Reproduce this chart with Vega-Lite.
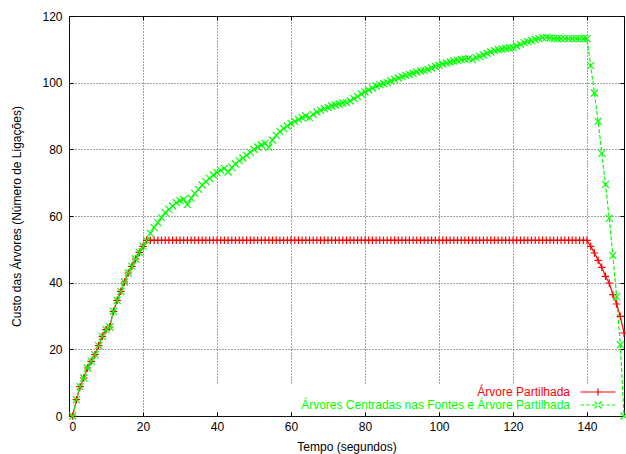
{
 "$schema": "https://vega.github.io/schema/vega-lite/v6.json",
 "width": 555, "height": 400,
 "autosize": "none",
 "padding": {"left": 69, "top": 16, "right": 2, "bottom": 38},
 "background": "white",
 "config": {
  "font": "Liberation Sans",
  "view": {"stroke": "black", "strokeWidth": 1},
  "axis": {"labelFontSize": 12, "labelColor": "black", "titleFontSize": 12, "titleFontWeight": "normal", "titleColor": "black", "domain": false, "tickColor": "black", "tickSize": -4, "gridColor": "#333333", "gridDash": [1, 2], "gridOpacity": 0.9}
 },
 "data": {"values": [
  {"t":1,"partilhada":0,"centradas":0},{"t":2,"partilhada":4.9,"centradas":4.9},{"t":3,"partilhada":8.8,"centradas":8.8},{"t":4,"partilhada":11.4,"centradas":11.4},{"t":5,"partilhada":14.4,"centradas":14.4},
  {"t":6,"partilhada":16.4,"centradas":16.4},{"t":7,"partilhada":18.4,"centradas":18.4},{"t":8,"partilhada":21.1,"centradas":21.1},{"t":9,"partilhada":23.9,"centradas":23.9},{"t":10,"partilhada":25.9,"centradas":25.9},
  {"t":11,"partilhada":26.7,"centradas":26.7},{"t":12,"partilhada":31.4,"centradas":31.4},{"t":13,"partilhada":34.7,"centradas":34.7},{"t":14,"partilhada":37.4,"centradas":37.4},{"t":15,"partilhada":40.2,"centradas":40.2},
  {"t":16,"partilhada":42.9,"centradas":42.9},{"t":17,"partilhada":44.9,"centradas":44.9},{"t":18,"partilhada":47.1,"centradas":47.1},{"t":19,"partilhada":49.1,"centradas":49.1},{"t":20,"partilhada":50.9,"centradas":50.9},
  {"t":21,"partilhada":52.7,"centradas":52.6},{"t":22,"partilhada":52.7,"centradas":54.8},{"t":23,"partilhada":52.7,"centradas":56.5},{"t":24,"partilhada":52.7,"centradas":58},{"t":25,"partilhada":52.7,"centradas":59.5},
  {"t":26,"partilhada":52.7,"centradas":61},{"t":27,"partilhada":52.7,"centradas":62},{"t":28,"partilhada":52.7,"centradas":63},{"t":29,"partilhada":52.7,"centradas":64},{"t":30,"partilhada":52.7,"centradas":64.6},
  {"t":31,"partilhada":52.7,"centradas":65},{"t":32,"partilhada":52.7,"centradas":63.5},{"t":33,"partilhada":52.7,"centradas":65.3},{"t":34,"partilhada":52.7,"centradas":66.8},{"t":35,"partilhada":52.7,"centradas":68},
  {"t":36,"partilhada":52.7,"centradas":69.3},{"t":37,"partilhada":52.7,"centradas":70.3},{"t":38,"partilhada":52.7,"centradas":71.3},{"t":39,"partilhada":52.7,"centradas":72.3},{"t":40,"partilhada":52.7,"centradas":73},
  {"t":41,"partilhada":52.7,"centradas":73.7},{"t":42,"partilhada":52.7,"centradas":74.3},{"t":43,"partilhada":52.7,"centradas":73.2},{"t":44,"partilhada":52.7,"centradas":74.6},{"t":45,"partilhada":52.7,"centradas":75.6},
  {"t":46,"partilhada":52.7,"centradas":76.6},{"t":47,"partilhada":52.7,"centradas":77.4},{"t":48,"partilhada":52.7,"centradas":78.2},{"t":49,"partilhada":52.7,"centradas":79.1},{"t":50,"partilhada":52.7,"centradas":80},
  {"t":51,"partilhada":52.7,"centradas":80.7},{"t":52,"partilhada":52.7,"centradas":81.3},{"t":53,"partilhada":52.7,"centradas":81.8},{"t":54,"partilhada":52.7,"centradas":80.6},{"t":55,"partilhada":52.7,"centradas":82.8},
  {"t":56,"partilhada":52.7,"centradas":84.2},{"t":57,"partilhada":52.7,"centradas":85.3},{"t":58,"partilhada":52.7,"centradas":86.2},{"t":59,"partilhada":52.7,"centradas":87},{"t":60,"partilhada":52.7,"centradas":87.8},
  {"t":61,"partilhada":52.7,"centradas":88.4},{"t":62,"partilhada":52.7,"centradas":89},{"t":63,"partilhada":52.7,"centradas":89.5},{"t":64,"partilhada":52.7,"centradas":90},{"t":65,"partilhada":52.7,"centradas":89.5},
  {"t":66,"partilhada":52.7,"centradas":90.5},{"t":67,"partilhada":52.7,"centradas":91.2},{"t":68,"partilhada":52.7,"centradas":91.7},{"t":69,"partilhada":52.7,"centradas":92.2},{"t":70,"partilhada":52.7,"centradas":92.6},
  {"t":71,"partilhada":52.7,"centradas":93},{"t":72,"partilhada":52.7,"centradas":93.3},{"t":73,"partilhada":52.7,"centradas":93.6},{"t":74,"partilhada":52.7,"centradas":93.9},{"t":75,"partilhada":52.7,"centradas":94},
  {"t":76,"partilhada":52.7,"centradas":94.5},{"t":77,"partilhada":52.7,"centradas":95.2},{"t":78,"partilhada":52.7,"centradas":95.8},{"t":79,"partilhada":52.7,"centradas":96.6},{"t":80,"partilhada":52.7,"centradas":97.2},
  {"t":81,"partilhada":52.7,"centradas":97.8},{"t":82,"partilhada":52.7,"centradas":98.4},{"t":83,"partilhada":52.7,"centradas":99},{"t":84,"partilhada":52.7,"centradas":99.4},{"t":85,"partilhada":52.7,"centradas":99.7},
  {"t":86,"partilhada":52.7,"centradas":100},{"t":87,"partilhada":52.7,"centradas":100.5},{"t":88,"partilhada":52.7,"centradas":101},{"t":89,"partilhada":52.7,"centradas":101.4},{"t":90,"partilhada":52.7,"centradas":101.8},
  {"t":91,"partilhada":52.7,"centradas":102.2},{"t":92,"partilhada":52.7,"centradas":102.5},{"t":93,"partilhada":52.7,"centradas":102.8},{"t":94,"partilhada":52.7,"centradas":103.2},{"t":95,"partilhada":52.7,"centradas":103.5},
  {"t":96,"partilhada":52.7,"centradas":103.7},{"t":97,"partilhada":52.7,"centradas":104},{"t":98,"partilhada":52.7,"centradas":104.4},{"t":99,"partilhada":52.7,"centradas":104.9},{"t":100,"partilhada":52.7,"centradas":105.2},
  {"t":101,"partilhada":52.7,"centradas":105.6},{"t":102,"partilhada":52.7,"centradas":105.9},{"t":103,"partilhada":52.7,"centradas":106.2},{"t":104,"partilhada":52.7,"centradas":106.5},{"t":105,"partilhada":52.7,"centradas":106.7},
  {"t":106,"partilhada":52.7,"centradas":106.9},{"t":107,"partilhada":52.7,"centradas":107.1},{"t":108,"partilhada":52.7,"centradas":107.2},{"t":109,"partilhada":52.7,"centradas":106.9},{"t":110,"partilhada":52.7,"centradas":107.5},
  {"t":111,"partilhada":52.7,"centradas":107.9},{"t":112,"partilhada":52.7,"centradas":108.3},{"t":113,"partilhada":52.7,"centradas":108.8},{"t":114,"partilhada":52.7,"centradas":109.2},{"t":115,"partilhada":52.7,"centradas":109.6},
  {"t":116,"partilhada":52.7,"centradas":109.9},{"t":117,"partilhada":52.7,"centradas":110.1},{"t":118,"partilhada":52.7,"centradas":110.3},{"t":119,"partilhada":52.7,"centradas":110.4},{"t":120,"partilhada":52.7,"centradas":110.5},
  {"t":121,"partilhada":52.7,"centradas":111},{"t":122,"partilhada":52.7,"centradas":111.5},{"t":123,"partilhada":52.7,"centradas":112},{"t":124,"partilhada":52.7,"centradas":112.3},{"t":125,"partilhada":52.7,"centradas":112.6},
  {"t":126,"partilhada":52.7,"centradas":112.9},{"t":127,"partilhada":52.7,"centradas":113.2},{"t":128,"partilhada":52.7,"centradas":113.5},{"t":129,"partilhada":52.7,"centradas":113.6},{"t":130,"partilhada":52.7,"centradas":113.4},
  {"t":131,"partilhada":52.7,"centradas":113.2},{"t":132,"partilhada":52.7,"centradas":113.2},{"t":133,"partilhada":52.7,"centradas":113.2},{"t":134,"partilhada":52.7,"centradas":113.2},{"t":135,"partilhada":52.7,"centradas":113.2},
  {"t":136,"partilhada":52.7,"centradas":113.2},{"t":137,"partilhada":52.7,"centradas":113.2},{"t":138,"partilhada":52.7,"centradas":113.2},{"t":139,"partilhada":52.7,"centradas":113.2},{"t":140,"partilhada":52.7,"centradas":113.2},
  {"t":141,"partilhada":50.9,"centradas":105.1},{"t":142,"partilhada":48.9,"centradas":96.9},{"t":143,"partilhada":46.7,"centradas":88.4},{"t":144,"partilhada":44.6,"centradas":78.8},{"t":145,"partilhada":41.9,"centradas":69.5},
  {"t":146,"partilhada":39.9,"centradas":59.3},{"t":147,"partilhada":36.4,"centradas":48.1},{"t":148,"partilhada":33.6,"centradas":35.8},{"t":149,"partilhada":29.9,"centradas":21.4},{"t":150,"partilhada":24.9,"centradas":0}
 ]},
 "transform": [{"fold": ["partilhada", "centradas"], "as": ["serie", "custo"]}],
 "layer": [
  {
   "data": {"values": [{}]},
   "transform": [],
   "mark": {"type": "rect", "fill": "white"},
   "encoding": {
    "x": {"datum": 25, "type": "quantitative", "scale": {"domain": [0, 150], "nice": false}, "axis": {"orient": "top", "values": [0,20,40,60,80,100,120,140], "labels": false, "grid": false, "title": null}},
    "x2": {"datum": 149.6},
    "y": {"datum": 1.5, "type": "quantitative", "scale": {"domain": [0, 120], "nice": false}, "axis": {"orient": "right", "values": [0,20,40,60,80,100,120], "labels": false, "grid": false, "title": null}},
    "y2": {"datum": 9.3}
   }
  },
  {
   "mark": {"type": "line", "strokeWidth": 1.2},
   "encoding": {
    "x": {"field": "t", "type": "quantitative", "scale": {"domain": [0, 150], "nice": false}, "axis": {"orient": "bottom", "values": [0,20,40,60,80,100,120,140], "title": "Tempo (segundos)", "labelPadding": 9, "titlePadding": 9, "grid": true}},
    "y": {"field": "custo", "type": "quantitative", "scale": {"domain": [0, 120], "nice": false}, "axis": {"orient": "left", "values": [0,20,40,60,80,100,120], "title": "Custo das Árvores (Número de Ligações)", "labelPadding": 11, "titlePadding": 18, "grid": true}},
    "color": {"field": "serie", "type": "nominal", "scale": {"domain": ["partilhada", "centradas"], "range": ["#ff0000", "#00ff00"]},
     "legend": {"orient": "none", "legendX": 523, "legendY": 370, "title": null, "padding": 0, "symbolType": "M-5,0H5", "symbolSize": 49, "symbolStrokeWidth": 1.2, "labelFontSize": 12, "labelAlign": "right", "labelOffset": -34, "rowPadding": 1, "labelLimit": 400,
      "labelExpr": "datum.value == 'partilhada' ? 'Árvore Partilhada' : 'Árvores Centradas nas Fontes e Árvore Partilhada'",
      "encode": {
       "labels": {"update": {"fill": {"signal": "datum.value == 'partilhada' ? '#ff0000' : '#00ff00'"}}},
       "symbols": {"update": {"shape": {"signal": "datum.value == 'partilhada' ? 'M-5,0H5M0,-1V1' : 'M-5,0H-4M-3.4,0H-2.4M-1.8,0H-0.8M0.8,0H1.8M2.4,0H3.4M4,0H5M-1,-1L1,1M-1,1L1,-1'"}, "fill": {"value": "transparent"}}}
      }
     }},
    "strokeDash": {"field": "serie", "type": "nominal", "scale": {"domain": ["partilhada", "centradas"], "range": [[1, 0], [4, 2]]}, "legend": null}
   }
  },
  {
   "transform": [{"filter": "datum.serie == 'partilhada'"}],
   "mark": {"type": "point", "filled": false, "strokeWidth": 1.2, "size": 56, "opacity": 1, "shape": "M-1,0H1M0,-1V1", "stroke": "#ff0000"},
   "encoding": {
    "x": {"field": "t", "type": "quantitative", "scale": {"domain": [0, 150], "nice": false}, "axis": null},
    "y": {"field": "custo", "type": "quantitative", "scale": {"domain": [0, 120], "nice": false}, "axis": null}
   }
  },
  {
   "transform": [{"filter": "datum.serie == 'centradas'"}],
   "mark": {"type": "point", "filled": false, "strokeWidth": 1.2, "size": 49, "opacity": 1, "shape": "M-1,-1L1,1M-1,1L1,-1", "stroke": "#00ff00"},
   "encoding": {
    "x": {"field": "t", "type": "quantitative", "scale": {"domain": [0, 150], "nice": false}, "axis": null},
    "y": {"field": "custo", "type": "quantitative", "scale": {"domain": [0, 120], "nice": false}, "axis": null}
   }
  }
 ],
 "resolve": {"axis": {"x": "independent", "y": "independent"}}
}
